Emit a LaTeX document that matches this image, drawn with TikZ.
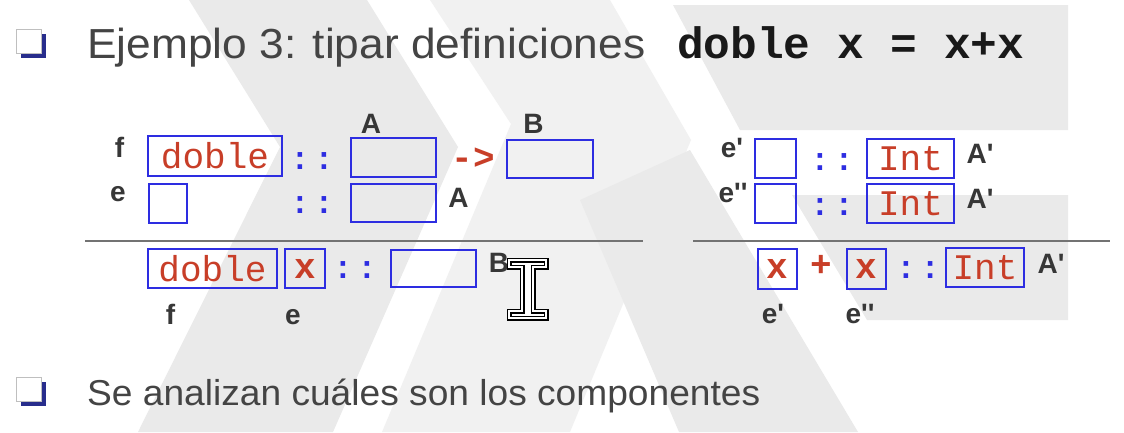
\documentclass[tikz,border=0pt]{standalone}
\usepackage{fontspec}
\setmainfont{Liberation Sans}
\newfontfamily\monofam{Liberation Mono}
\definecolor{bxblue}{RGB}{45,45,225}
\definecolor{cred}{RGB}{200,62,40}
\definecolor{lblgray}{RGB}{55,55,55}
\definecolor{ttlgray}{RGB}{68,68,68}
\definecolor{wm}{RGB}{234,234,234}
\definecolor{wmlight}{RGB}{241,241,241}
\definecolor{rulegray}{RGB}{115,115,115}
\definecolor{bulblue}{RGB}{40,45,140}
\newcommand\sq{\textquotesingle}
\newcommand\dcol{:\hspace{5pt}:}
\begin{document}
\begin{tikzpicture}[x=1pt,y=-1pt,
 bx/.style={draw=bxblue,line width=2.4pt,inner sep=0pt},
 code/.style={font=\monofam\fontsize{36}{36}\selectfont,text=cred},
 codeb/.style={font=\monofam\bfseries\fontsize{36}{36}\selectfont,text=cred},
 colons/.style={font=\monofam\bfseries\fontsize{32}{32}\selectfont,text=bxblue,inner sep=0pt},
 opr/.style={font=\monofam\bfseries\fontsize{36}{36}\selectfont,text=cred,inner sep=0pt},
 lbl/.style={font=\bfseries\fontsize{28}{28}\selectfont,text=lblgray,inner sep=0pt,anchor=base},
 rule/.style={draw=rulegray,line width=1.4pt},
 bul/.style={fill=bulblue},
 bulfront/.style={fill=white,draw=black!25,line width=0.8pt},
 ]
\useasboundingbox (0,0) rectangle (1124,432);
\fill[white] (0,0) rectangle (1124,432);
% watermark
\fill[wm] (189,0) -- (367,0) -- (458,147) -- (333,432) -- (138,432) -- (280,147) -- cycle;
\fill[wmlight] (430,0) -- (610,0) -- (691,140) -- (570,432) -- (382,432) -- (511,124) -- cycle;
\fill[wm] (580,200) -- (690,150) -- (858,432) -- (679,432) -- cycle;
\fill[wm] (673,5) -- (1068,5) -- (1068,130) -- (740,130) -- cycle;
\fill[wm] (792,195) -- (1068,195) -- (1068,320) -- (867,320) -- cycle;
% bullets
\fill[bul] (21,34) rectangle (46,58);
\filldraw[bulfront] (16,29) rectangle (41,53);
\fill[bul] (21,382) rectangle (46,406);
\filldraw[bulfront] (16,377) rectangle (41,401);
% title
\node[anchor=base west,inner sep=0pt,text=ttlgray,font=\fontsize{42}{42}\selectfont] (title) at (87,58)
  {\resizebox{558pt}{\height}{Ejemplo 3: tipar definiciones}};
\node[anchor=base west,inner sep=0pt,text=black!90,font=\monofam\bfseries\fontsize{44}{44}\selectfont] (tcode) at (677,58)
  {\resizebox{347pt}{\height}{doble x = x+x}};
\node[anchor=base west,inner sep=0pt,text=ttlgray,font=\fontsize{36}{36}\selectfont] (sub) at (87,405)
  {\resizebox{673pt}{\height}{Se analizan cuáles son los componentes}};
% left rule premises
\node[bx,code,minimum width=134pt,minimum height=40pt] (dob1) at (215,156) {doble};
\node[bx,minimum width=38pt,minimum height=39pt] (ebox) at (168,203.5) {};
\node[bx,minimum width=85pt,minimum height=39pt] (a1) at (393.5,157.5) {};
\node[bx,minimum width=85pt,minimum height=38pt] (a2) at (393.5,203) {};
\node[bx,minimum width=86pt,minimum height=38pt] (b1) at (550,159) {};
\node[colons] (c1) at (312,161) {\dcol};
\node[colons] (c2) at (312,205) {\dcol};
\node[opr] (arr) at (473,159) {->};
\node[lbl] (lf1) at (119.5,157) {f};
\node[lbl] (le1) at (118,201) {e};
\node[lbl] (la1) at (371,133) {A};
\node[lbl] (lb1) at (533.5,133) {B};
\node[lbl] (la2) at (458.5,207) {A};
\coordinate (r1s) at (85,241);
\coordinate (r1e) at (643,241);
\draw[rule] (r1s) -- (r1e);
% left conclusion
\node[bx,code,minimum width=129pt,minimum height=39pt] (dob2) at (212.5,268.5) {doble};
\node[bx,codeb,minimum width=40pt,minimum height=39pt] (xb) at (305,268.5) {x};
\node[colons] (c3) at (355,270) {\dcol};
\node[bx,minimum width=85pt,minimum height=37pt] (b2) at (433.5,268.5) {};
\node[lbl] (lb2) at (499,272) {B};
\node[lbl] (lf2) at (170.5,324) {f};
\node[lbl] (le2) at (293,324) {e};
% cursor
\path[draw=black,line width=5pt,fill=white,line join=miter]
 (509,260) -- (546,260) -- (546,267) -- (533,267) -- (533,311) -- (546,311) -- (546,318) -- (509,318) -- (509,311) -- (522,311) -- (522,267) -- (509,267) -- cycle;
\path[draw=white,line width=1.6pt,line join=miter]
 (509,260) -- (546,260) -- (546,267) -- (533,267) -- (533,311) -- (546,311) -- (546,318) -- (509,318) -- (509,311) -- (522,311) -- (522,267) -- (509,267) -- cycle;
% right rule premises
\node[bx,minimum width=41pt,minimum height=39pt] (ep1) at (775.5,158.5) {};
\node[bx,minimum width=41pt,minimum height=39pt] (ep2) at (775.5,203.5) {};
\node[bx,code,minimum width=87pt,minimum height=39pt] (int1) at (910.5,158.5) {Int};
\node[bx,code,minimum width=87pt,minimum height=39pt] (int2) at (910.5,203.5) {Int};
\node[colons] (c4) at (832,162) {\dcol};
\node[colons] (c5) at (832,207) {\dcol};
\node[lbl] (lep1) at (732,157) {e\sq};
\node[lbl] (lep2) at (733,202) {e\sq\sq};
\node[lbl] (lap1) at (980,163) {A\sq};
\node[lbl] (lap2) at (980,208) {A\sq};
\coordinate (r2s) at (693,241);
\coordinate (r2e) at (1110,241);
\draw[rule] (r2s) -- (r2e);
% right conclusion
\node[bx,codeb,minimum width=39pt,minimum height=40pt] (xr1) at (777.5,269) {x};
\node[opr] (plus) at (821,266) {+};
\node[bx,codeb,minimum width=39pt,minimum height=40pt] (xr2) at (866.5,269) {x};
\node[colons] (c6) at (918,270) {\dcol};
\node[bx,code,minimum width=78pt,minimum height=39pt] (int3) at (985,267.5) {Int};
\node[lbl] (lap3) at (1051,273) {A\sq};
\node[lbl] (lep3) at (773,323) {e\sq};
\node[lbl] (lep4) at (860,323) {e\sq\sq};
\end{tikzpicture}
\end{document}
